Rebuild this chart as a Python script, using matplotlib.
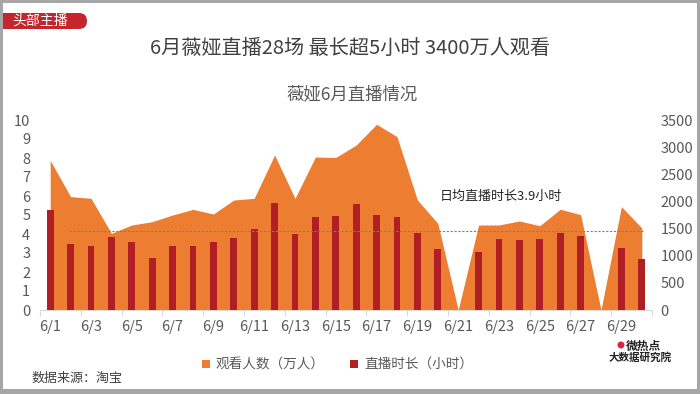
import matplotlib
matplotlib.use("Agg")
import matplotlib.pyplot as plt
from matplotlib.patches import Rectangle, FancyBboxPatch, Circle
from matplotlib.transforms import Affine2D
import numpy as np

plt.rcParams['font.family'] = ['Noto Sans CJK SC', 'DejaVu Sans']

# ---------------- data ----------------
dates = [f"6/{d}" for d in range(1, 31)]
viewers = [2757, 2088, 2057, 1412, 1566, 1627, 1750, 1854, 1768, 2026,
           2057, 2855, 2057, 2818, 2810, 3039, 3421, 3193, 2026, 1596,
           0, 1566, 1566, 1640, 1553, 1856, 1756, 0, 1904, 1511]
hours = [5.26, 3.49, 3.35, 3.82, 3.60, 2.75, 3.37, 3.37, 3.56, 3.81,
         4.28, 5.61, 4.00, 4.91, 4.93, 5.56, 5.02, 4.88, 4.04, 3.19,
         0, 3.07, 3.75, 3.68, 3.72, 4.07, 3.89, 0, 3.26, 2.67]
avg_line = 4.15
avg_label = "日均直播时长3.9小时"
left_ticks = list(range(0, 11))
right_ticks = list(range(0, 3501, 500))

title = "6月薇娅直播28场 最长超5小时 3400万人观看"
subtitle = "薇娅6月直播情况"
tag = "头部主播"
legend_labels = ["观看人数（万人）", "直播时长（小时）"]
source = "数据来源：淘宝"

ORANGE = "#ED7D31"
RED = "#B01F24"
GRAY = "#595959"

W, H = 700, 394
fig = plt.figure(figsize=(W / 100, H / 100), dpi=100)
pxT = Affine2D().scale(1 / W, 1 / H) + fig.transFigure


def fy(y):
    return H - y


# ---------------- axes ----------------
ax = fig.add_axes([40 / W, fy(310) / H, 612 / W, 190 / H])
ax2 = ax.twinx()
ax.set_zorder(ax2.get_zorder() + 1)
ax.patch.set_visible(False)

x = np.arange(len(dates))
ax2.fill_between(x, viewers, 0, color=ORANGE, linewidth=0)
ax.bar(x, hours, width=0.33, color=RED, zorder=3)
ax.plot([0.9, 29.1], [avg_line, avg_line], color="#7F7F7F", lw=0.8,
        ls=(0, (2, 1.5)), zorder=4)
ax.text(22.1, 5.95, avg_label, ha="center", va="center", fontsize=9.4,
        color="#262626", zorder=5)

ax.set_xlim(-0.5, 29.5)
ax.set_ylim(0, 10)
ax2.set_ylim(0, 3500)
ax.set_yticks(left_ticks)
ax2.set_yticks(right_ticks)
ax.set_xticks(x[::2])
ax.set_xticklabels(dates[::2])
ax.set_xticks(np.arange(-0.5, 30, 2), minor=True)

for a in (ax, ax2):
    for s in a.spines.values():
        s.set_visible(False)
ax.spines["bottom"].set_visible(True)
ax.spines["bottom"].set_color("#D9D9D9")
ax.tick_params(axis="x", which="major", length=0, pad=7, labelsize=10.5,
               labelcolor=GRAY)
ax.tick_params(axis="x", which="minor", length=4, color="#D9D9D9", width=0.8)
ax.tick_params(axis="y", length=0, pad=7, labelsize=10.5, labelcolor=GRAY)
ax2.tick_params(axis="y", length=0, pad=6, labelsize=10.5, labelcolor=GRAY)

# ---------------- decorations ----------------
fig.text(350 / W, fy(48) / H, title, ha="center", va="center",
         fontsize=14.5, color="#404040")
fig.text(352 / W, fy(94) / H, subtitle, ha="center", va="center",
         fontsize=12.5, color=GRAY)

tab = FancyBboxPatch((-20, fy(29)), 107, 16,
                     boxstyle="round,pad=0,rounding_size=8",
                     transform=pxT, facecolor="#C4262B", edgecolor="none")
fig.add_artist(tab)
fig.text(40 / W, fy(21) / H, tag, ha="center", va="center", fontsize=10,
         color="white")

# legend
fig.add_artist(Rectangle((202, fy(368)), 8, 8, transform=pxT,
                         facecolor=ORANGE, edgecolor="none"))
fig.text(216 / W, fy(364) / H, legend_labels[0], ha="left", va="center",
         fontsize=9.8, color=GRAY)
fig.add_artist(Rectangle((350, fy(368)), 8, 8, transform=pxT,
                         facecolor=RED, edgecolor="none"))
fig.text(364 / W, fy(364) / H, legend_labels[1], ha="left", va="center",
         fontsize=9.8, color=GRAY)

fig.text(32 / W, fy(378) / H, source, ha="left", va="center",
         fontsize=9.4, color="#404040")

# logo
fig.add_artist(Circle((621, fy(345)), 3.5, transform=pxT,
                      facecolor="#D7263D", edgecolor="none"))
fig.text(626 / W, fy(346) / H, "微热点", ha="left", va="center",
         fontsize=8.5, fontweight="bold", color="#222222")
fig.text(640 / W, fy(358) / H, "大数据研究院", ha="center", va="center",
         fontsize=7.6, fontweight="bold", color="#222222")

# frame
fc = "#A6A6A6"
fig.add_artist(Rectangle((0, 0), W, 5, transform=pxT, facecolor=fc,
                         edgecolor="none"))
fig.add_artist(Rectangle((0, H - 2.5), W, 2.5, transform=pxT, facecolor=fc,
                         edgecolor="none"))
fig.add_artist(Rectangle((0, 0), 3, H, transform=pxT, facecolor=fc,
                         edgecolor="none"))
fig.add_artist(Rectangle((W - 3, 0), 3, H, transform=pxT, facecolor=fc,
                         edgecolor="none"))

fig.savefig("out.png", dpi=100)
